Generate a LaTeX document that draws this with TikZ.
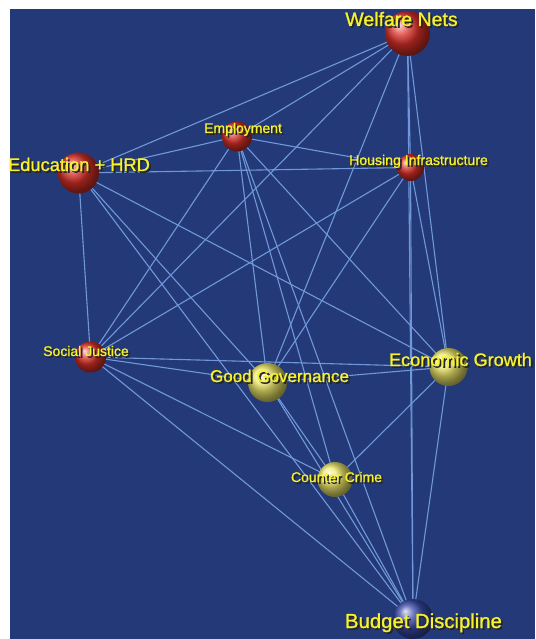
\documentclass[tikz,border=0pt]{standalone}
\usepackage{fontspec}
\setsansfont[FakeBold=1]{Liberation Sans}

\definecolor{netblue}{HTML}{243A78}
\definecolor{linkblue}{HTML}{7098D8}
\definecolor{labyellow}{HTML}{F6F22E}
\definecolor{redball}{HTML}{DC3029}
\definecolor{yellowball}{HTML}{EEE86A}
\definecolor{blueball}{HTML}{3849A8}

\pgfdeclarelayer{bg}
\pgfdeclarelayer{links}
\pgfsetlayers{bg,links,main}

\newcommand{\shadowed}[1]{\makebox[0pt][l]{\raisebox{-1.8pt}{\hspace{1.8pt}\textcolor{black!85}{#1}}}#1}

\tikzset{
  topic/.style={circle, inner sep=0pt, minimum size=#1},
  redtopic/.style={topic=#1, ball color=redball},
  yeltopic/.style={topic=#1, ball color=yellowball},
  bluetopic/.style={topic=#1, ball color=blueball},
  lab/.style={text=labyellow, inner sep=0pt, anchor=base, font=\sffamily\fontsize{#1}{#1}\selectfont},
  link/.style={draw=linkblue, line width=1.1pt}
}

\begin{document}
\begin{tikzpicture}[x=1pt,y=-1pt]
\useasboundingbox (0,0) rectangle (535,639);
\begin{pgfonlayer}{bg}
\fill[white] (0,0) rectangle (535,639);
\fill[netblue] (9.5,9.5) rectangle (535,639);
\end{pgfonlayer}

% spheres
\node[redtopic=45] (wel) at (407.5,33.5) {};
\node[redtopic=30] (emp) at (237,136.5) {};
\node[redtopic=41] (edu) at (78.5,173) {};
\node[redtopic=27] (hou) at (410.5,167.5) {};
\node[redtopic=31] (soc) at (90.5,357) {};
\node[yeltopic=39] (gov) at (267.5,382.5) {};
\node[yeltopic=38] (eco) at (448.5,367) {};
\node[yeltopic=35] (cri) at (335,479.5) {};
\node[bluetopic=40] (bud) at (413,619) {};

% links between topics
\begin{pgfonlayer}{links}
\foreach \a/\b in {wel/edu, wel/emp, wel/hou, wel/soc, wel/gov, wel/eco, wel/bud,
                   emp/edu, emp/hou, emp/soc, emp/gov, emp/cri, emp/bud, emp/eco,
                   edu/hou, edu/soc, edu/gov, edu/eco, edu/bud,
                   hou/soc, hou/gov, hou/eco, hou/bud,
                   soc/gov, soc/eco, soc/cri, soc/bud,
                   gov/eco, gov/cri, gov/bud,
                   eco/cri, eco/bud, cri/bud}
  \draw[link] (\a.center) -- (\b.center);
\end{pgfonlayer}

% labels
\node[lab=19.5] (wel-l) at (401.5,26) {\shadowed{Welfare Nets}};
\node[lab=14] (emp-l) at (243,133) {\shadowed{Employment}};
\node[lab=18.3] (edu-l) at (79,171) {\shadowed{Education + HRD}};
\node[lab=14.1] (hou-l) at (418.5,165) {\shadowed{Housing Infrastructure}};
\node[lab=14] (soc-l) at (86,356) {\shadowed{Social Justice}};
\node[lab=17] (gov-l) at (279.5,382) {\shadowed{Good Governance}};
\node[lab=18.1] (eco-l) at (460.5,366) {\shadowed{Economic Growth}};
\node[lab=14] (cri-l) at (336.5,482) {\shadowed{Counter Crime}};
\node[lab=20.3] (bud-l) at (423.5,628) {\shadowed{Budget Discipline}};
\end{tikzpicture}
\end{document}
